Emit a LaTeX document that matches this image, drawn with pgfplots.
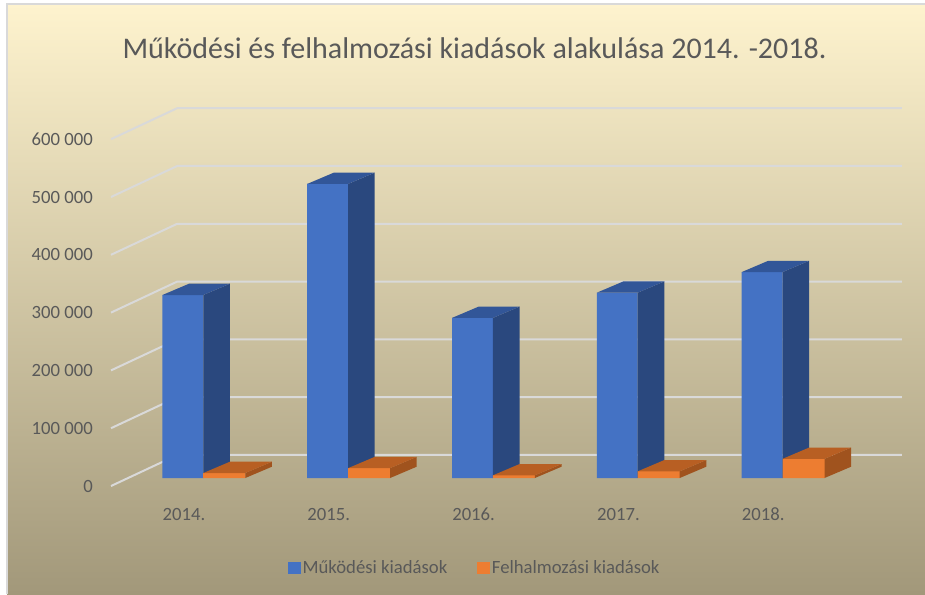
\documentclass[border=0pt]{standalone}
\usepackage{pgfplots}
\pgfplotsset{compat=1.18}
\usepackage{pgfplotstable}
\usepackage{fontspec}
\setmainfont{Carlito}
\definecolor{blueF}{RGB}{68,114,196}
\definecolor{blueS}{RGB}{42,72,126}
\definecolor{blueT}{RGB}{50,86,152}
\definecolor{orF}{RGB}{237,125,49}
\definecolor{orS}{RGB}{160,83,30}
\definecolor{orT}{RGB}{184,95,35}
\definecolor{gridc}{RGB}{217,217,217}
\definecolor{labc}{RGB}{89,89,89}
\definecolor{bgT}{RGB}{254,243,206}
\definecolor{bgB}{RGB}{162,152,122}

% values in thousand
\pgfplotstableread{
i  m      f
0  315.5  8.6
1  507.0  17.0
2  276.0  4.6
3  319.5  11.5
4  355.0  33.0
}\data

\def\dX{26.6pt}
\def\dY{11.3pt}
% front face: from offset #1 to #2, from the data point down to zero
\newcommand{\frontface}[3]{%
  \pgfmathsetmacro\Hh{\val*0.58}%
  \pgfsetfillcolor{#3}%
  \pgfpathrectanglecorners{\pgfpoint{#1}{0pt}}{\pgfpoint{#2}{-\Hh pt}}%
  \pgfusepathqfill}
% side face: front-right edge at offset #1 from the data point
\newcommand{\sideface}[2]{%
  \pgfmathsetmacro\Hh{\val*0.58}%
  \pgfsetfillcolor{#2}%
  \pgfpathmoveto{\pgfpoint{#1}{0pt}}%
  \pgfpathlineto{\pgfpoint{#1+\dX}{\dY}}%
  \pgfpathlineto{\pgfpoint{#1+\dX}{\dY-\Hh pt}}%
  \pgfpathlineto{\pgfpoint{#1}{-\Hh pt}}%
  \pgfpathclose
  \pgfusepathqfill}
\newcommand{\topface}[3]{%
  \pgfsetfillcolor{#3}%
  \pgfpathmoveto{\pgfpoint{#1}{0pt}}%
  \pgfpathlineto{\pgfpoint{#2}{0pt}}%
  \pgfpathlineto{\pgfpoint{#2+\dX}{\dY}}%
  \pgfpathlineto{\pgfpoint{#1+\dX}{\dY}}%
  \pgfpathclose
  \pgfusepathqfill}
\pgfdeclareplotmark{sideB}{\sideface{0pt}{blueS}}
\pgfdeclareplotmark{topB}{\topface{-40.9pt}{0pt}{blueT}}
\pgfdeclareplotmark{frontO}{\frontface{0pt}{42pt}{orF}}
\pgfdeclareplotmark{sideO}{\sideface{42pt}{orS}}
\pgfdeclareplotmark{topO}{\topface{0pt}{42pt}{orT}}

\begin{document}
\begin{tikzpicture}
\useasboundingbox (0pt,0pt) rectangle (925pt,594pt);
\fill[white] (0pt,0pt) rectangle (925pt,594pt);
\shade[top color=bgT, bottom color=bgB] (7pt,0pt) rectangle (925pt,590pt);
\draw[gridc, line width=1.5pt] (7pt,0pt) -- (7pt,590pt) -- (925pt,590pt);

\begin{axis}[
  at={(93pt,86pt)}, anchor=south west,
  x=144.8pt, y=0.58pt,
  xmin=-0.7617, xmax=4.85, ymin=-51.7, ymax=700,
  enlargelimits=false, clip=false,
  axis line style={draw=none}, tick style={draw=none},
  xtick={0,1,2,3,4},
  xticklabels={2014.,2015.,2016.,2017.,2018.},
  ytick={-13.8,85.86,185.52,285.18,384.84,484.5,584.16},
  yticklabels={0,100 000,200 000,300 000,400 000,500 000,600 000},
  xticklabel style={anchor=north, inner sep=0pt, xshift=-19.3pt, font=\fontsize{18.7}{20}\selectfont, text=labc},
  yticklabel style={anchor=east, inner sep=0pt, font=\fontsize{18.7}{20}\selectfont, text=labc},
  legend style={at={(axis cs:1.875,-155.2)}, anchor=center, draw=none, fill=none,
    font=\fontsize{18.7}{20}\selectfont, text=labc, legend columns=2,
    /tikz/every even column/.append style={column sep=28pt}},
]
% wall grid lines (left wall diagonal + back wall)
\addplot[gridc, line width=2pt, forget plot] coordinates {(-0.6374,-13.8) (-0.18,39.7) (4.8239,39.7)};
\addplot[gridc, line width=2pt, forget plot] coordinates {(-0.6374,85.86) (-0.18,139.36) (4.8239,139.36)};
\addplot[gridc, line width=2pt, forget plot] coordinates {(-0.6374,185.52) (-0.18,239.02) (4.8239,239.02)};
\addplot[gridc, line width=2pt, forget plot] coordinates {(-0.6374,285.18) (-0.18,338.68) (4.8239,338.68)};
\addplot[gridc, line width=2pt, forget plot] coordinates {(-0.6374,384.84) (-0.18,438.34) (4.8239,438.34)};
\addplot[gridc, line width=2pt, forget plot] coordinates {(-0.6374,484.5) (-0.18,538.0) (4.8239,538.0)};
\addplot[gridc, line width=2pt, forget plot] coordinates {(-0.6374,584.16) (-0.18,637.66) (4.8239,637.66)};

% Működési kiadások
\addplot[ybar, bar width=40.9pt, bar shift=-20.45pt, fill=blueF, draw=none,
  legend image code/.code={\fill[blueF] (0pt,-6.3pt) rectangle (12.6pt,6.3pt);}]
  table[x=i, y=m] {\data};
\addlegendentry{Működési kiadások}
\addplot[only marks, mark=sideB, forget plot, visualization depends on={y \as \val}]
  table[x=i, y=m] {\data};
\addplot[only marks, mark=topB, forget plot, visualization depends on={y \as \val}]
  table[x=i, y=m] {\data};

% Felhalmozási kiadások
\addplot[ybar, bar width=42pt, bar shift=21pt, fill=orF, draw=none,
  legend image code/.code={\fill[orF] (0pt,-6.3pt) rectangle (12.6pt,6.3pt);}]
  table[x=i, y=f] {\data};
\addlegendentry{Felhalmozási kiadások}
\addplot[only marks, mark=frontO, forget plot, visualization depends on={y \as \val}]
  table[x=i, y=f] {\data};
\addplot[only marks, mark=sideO, forget plot, visualization depends on={y \as \val}]
  table[x=i, y=f] {\data};
\addplot[only marks, mark=topO, forget plot, visualization depends on={y \as \val}]
  table[x=i, y=f] {\data};
\end{axis}

\node[anchor=base, font=\fontsize{30}{32}\selectfont, text=labc] at (474.5pt,535pt)
  {Működési és felhalmozási kiadások alakulása 2014. -2018.};
\end{tikzpicture}
\end{document}
